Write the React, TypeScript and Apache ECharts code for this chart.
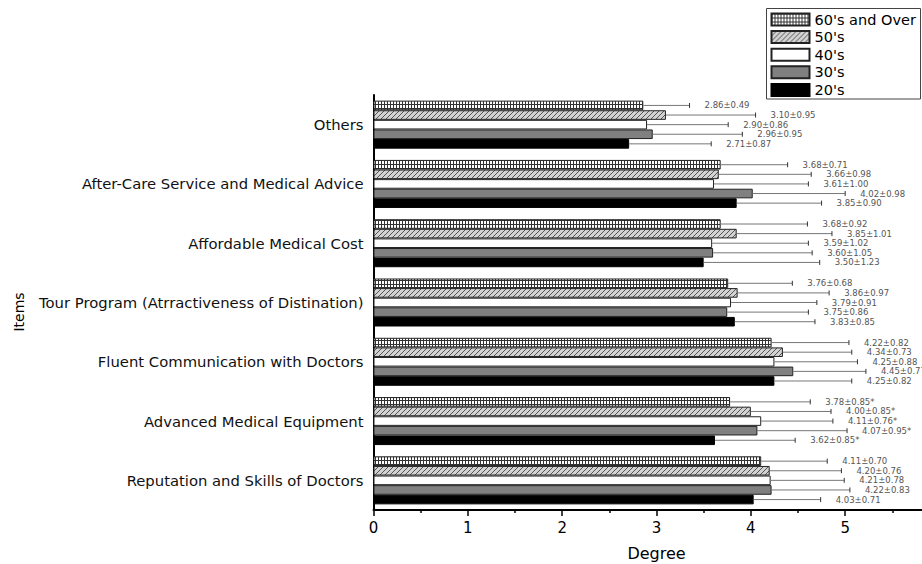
import React, { useEffect, useRef } from 'react';
import * as echarts from 'echarts';

const categories = [
  'Others',
  'After-Care Service and Medical Advice',
  'Affordable Medical Cost',
  'Tour Program (Atrractiveness of Distination)',
  'Fluent Communication with Doctors',
  'Advanced Medical Equipment',
  'Reputation and Skills of Doctors',
];
const groups = ["60's and Over", "50's", "40's", "30's", "20's"];

const mean60 = [2.86, 3.68, 3.68, 3.76, 4.22, 3.78, 4.11];
const sd60 = [0.49, 0.71, 0.92, 0.68, 0.82, 0.85, 0.7];
const mean50 = [3.1, 3.66, 3.85, 3.86, 4.34, 4.0, 4.2];
const sd50 = [0.95, 0.98, 1.01, 0.97, 0.73, 0.85, 0.76];
const mean40 = [2.9, 3.61, 3.59, 3.79, 4.25, 4.11, 4.21];
const sd40 = [0.86, 1.0, 1.02, 0.91, 0.88, 0.76, 0.78];
const mean30 = [2.96, 4.02, 3.6, 3.75, 4.45, 4.07, 4.22];
const sd30 = [0.95, 0.98, 1.05, 0.86, 0.77, 0.95, 0.83];
const mean20 = [2.71, 3.85, 3.5, 3.83, 4.25, 3.62, 4.03];
const sd20 = [0.87, 0.9, 1.23, 0.85, 0.82, 0.85, 0.71];
const significance = ['', '', '', '', '', '*', ''];

const xMin = 0;
const xMax = 6;
const xInterval = 1;

const FONT = '"DejaVu Sans", "Liberation Sans", Arial, sans-serif';

function makeGridPattern(): HTMLCanvasElement {
  const c = document.createElement('canvas');
  c.width = 3;
  c.height = 4;
  const ctx = c.getContext('2d')!;
  ctx.fillStyle = '#ffffff';
  ctx.fillRect(0, 0, 3, 4);
  ctx.fillStyle = '#333333';
  ctx.fillRect(0, 0, 1, 4);
  ctx.fillRect(0, 0, 3, 1);
  return c;
}

function makeHatchPattern(): HTMLCanvasElement {
  const n = 5;
  const c = document.createElement('canvas');
  c.width = n;
  c.height = n;
  const ctx = c.getContext('2d')!;
  ctx.fillStyle = '#d2d2d2';
  ctx.fillRect(0, 0, n, n);
  ctx.strokeStyle = '#555555';
  ctx.lineWidth = 1;
  ctx.beginPath();
  ctx.moveTo(0, n);
  ctx.lineTo(n, 0);
  ctx.moveTo(-1, 1);
  ctx.lineTo(1, -1);
  ctx.moveTo(n - 1, n + 1);
  ctx.lineTo(n + 1, n - 1);
  ctx.stroke();
  return c;
}

export default function App() {
  const ref = useRef<HTMLDivElement>(null);

  useEffect(() => {
    if (!ref.current) return;
    const chart = echarts.init(ref.current, undefined, { renderer: 'svg' });

    const means = [mean60, mean50, mean40, mean30, mean20];
    const sds = [sd60, sd50, sd40, sd30, sd20];
    const fills: any[] = [
      { image: makeGridPattern(), repeat: 'repeat' },
      { image: makeHatchPattern(), repeat: 'repeat' },
      '#ffffff',
      '#808080',
      '#000000',
    ];
    const borders = ['#222', '#222', '#222', '#222', '#000'];
    const gapRatio = 0.19;

    const errData: number[][] = [];
    const errLabels: string[] = [];
    for (let s = 0; s < groups.length; s++) {
      for (let c = 0; c < categories.length; c++) {
        errData.push([c, s, means[s][c], means[s][c] + sds[s][c]]);
        errLabels.push(
          means[s][c].toFixed(2) + '±' + sds[s][c].toFixed(2) + significance[c]
        );
      }
    }

    const barSeries = groups.map((g, s) => ({
      name: g,
      type: 'bar',
      data: means[s],
      barGap: '0%',
      barCategoryGap: gapRatio * 100 + '%',
      itemStyle: { color: fills[s], borderColor: borders[s], borderWidth: 1 },
      emphasis: { disabled: true },
    }));

    const option: any = {
      animation: false,
      backgroundColor: '#ffffff',
      textStyle: { fontFamily: FONT },
      grid: {
        left: 373.5,
        top: 95,
        bottom: 54,
        width: 566,
        containLabel: false,
        outerBoundsMode: 'none',
      },
      legend: {
        data: groups,
        orient: 'vertical',
        left: 770.5,
        top: 12,
        padding: 0,
        itemWidth: 38,
        itemHeight: 12,
        itemGap: 2.6,
        icon: 'rect',
        selectedMode: false,
        textStyle: { fontFamily: FONT, fontSize: 14.5, color: '#000' },
      },
      xAxis: {
        type: 'value',
        min: xMin,
        max: xMax,
        interval: xInterval,
        name: 'Degree',
        nameLocation: 'middle',
        nameGap: 35,
        nameTextStyle: { fontFamily: FONT, fontSize: 16, color: '#000' },
        axisLine: { show: true, lineStyle: { color: '#000', width: 2 } },
        axisTick: { show: true, length: 6, lineStyle: { color: '#000', width: 1.5 } },
        minorTick: { show: true, splitNumber: 2, length: 3, lineStyle: { color: '#000', width: 1.5 } },
        splitLine: { show: false },
        axisLabel: {
          fontFamily: FONT,
          fontSize: 15,
          color: '#000',
          margin: 10,
          showMaxLabel: false,
        },
      },
      yAxis: {
        type: 'category',
        data: categories,
        inverse: true,
        axisLine: { show: true, lineStyle: { color: '#000', width: 2 } },
        axisTick: { show: false },
        splitLine: { show: false },
        axisLabel: { fontFamily: FONT, fontSize: 14.8, color: '#111', margin: 10 },
      },
      graphic: [
        {
          type: 'rect',
          shape: { x: 766.5, y: 8.5, width: 154, height: 90.5 },
          style: { fill: 'none', stroke: '#444', lineWidth: 1 },
          z: 10,
        },
        {
          type: 'text',
          x: 19,
          y: 312,
          rotation: Math.PI / 2,
          style: {
            text: 'Items',
            fontFamily: FONT,
            fontSize: 14,
            fill: '#000',
            align: 'center',
            verticalAlign: 'middle',
          },
        },
      ],
      series: [
        ...barSeries,
        {
          type: 'custom',
          name: 'errors',
          data: errData,
          encode: { x: [2, 3], y: 0 },
          z: 5,
          renderItem: (params: any, api: any) => {
            const cat = api.value(0);
            const s = api.value(1);
            const m = api.value(2);
            const hi = api.value(3);
            const c0 = api.coord([m, cat]);
            const c1 = api.coord([hi, cat]);
            const band = api.size([0, 1])[1];
            const total = band * (1 - gapRatio);
            const bw = total / groups.length;
            const y = c0[1] - total / 2 + (s + 0.5) * bw;
            return {
              type: 'group',
              children: [
                {
                  type: 'line',
                  shape: { x1: c0[0], y1: y, x2: c1[0], y2: y },
                  style: { stroke: '#777', lineWidth: 1 },
                },
                {
                  type: 'line',
                  shape: { x1: c1[0], y1: y - 2.5, x2: c1[0], y2: y + 2.5 },
                  style: { stroke: '#333', lineWidth: 1 },
                },
                {
                  type: 'text',
                  x: c1[0] + 15,
                  y: y,
                  style: {
                    text: errLabels[params.dataIndex],
                    fontFamily: FONT,
                    fontSize: 8.5,
                    fill: '#555',
                    verticalAlign: 'middle',
                  },
                },
              ],
            };
          },
        },
      ],
    };

    chart.setOption(option);
    return () => chart.dispose();
  }, []);

  return (
    <div
      ref={ref}
      style={{
        position: 'fixed',
        left: 0,
        top: 0,
        width: 922,
        height: 564,
        overflow: 'hidden',
        background: '#fff',
      }}
    />
  );
}
